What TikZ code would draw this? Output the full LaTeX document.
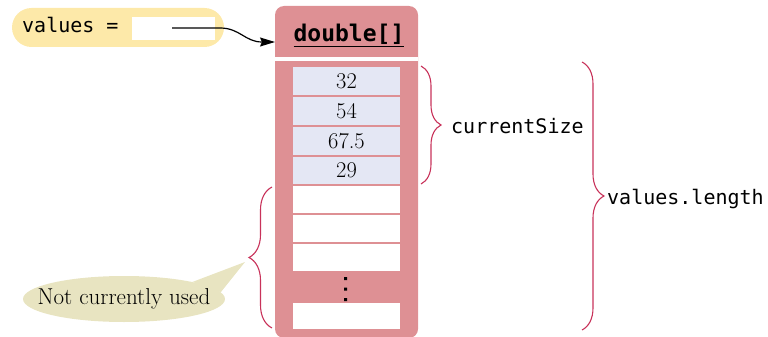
\documentclass[tikz,border=0pt]{standalone}
\usepackage{fontspec}
\setmonofont{DejaVu Sans Mono}
\usetikzlibrary{shapes.geometric,decorations.pathreplacing,arrows.meta}
\definecolor{boxred}{RGB}{222,144,148}
\definecolor{lav}{RGB}{228,231,244}
\definecolor{pill}{RGB}{253,233,169}
\definecolor{callout}{RGB}{232,228,193}
\definecolor{bracecol}{RGB}{200,50,90}
\tikzset{
  cellbox/.style={fill=lav, minimum width=107pt, minimum height=28pt, inner sep=0pt, font=\fontsize{22.5}{24}\selectfont},
  emptycell/.style={fill=white, minimum width=107pt, minimum height=27pt, inner sep=0pt},
  bracepath/.style={draw=bracecol, line width=1.1pt, decorate, decoration={brace, amplitude=#1}},
  monolabel/.style={font=\fontsize{20}{24}\ttfamily, inner sep=0pt},
}
\begin{document}
\begin{tikzpicture}[x=1pt,y=-1pt]
\useasboundingbox (0,0) rectangle (768,337);
% variable pill
\node[fill=pill, rounded corners=19.5pt, minimum width=212pt, minimum height=39pt, inner sep=0pt] (pill) at (118,27.5) {};
\node[monolabel, anchor=base west] (vlabel) at (22,33) {values =};
\node[fill=white, minimum width=83pt, minimum height=23pt, inner sep=0pt] (slot) at (173.5,28.5) {};
% array box
\node[fill=boxred, rounded corners=9pt, minimum width=143pt, minimum height=332pt, inner sep=0pt] (arr) at (346.5,172) {};
\node[fill=white, minimum width=143pt, minimum height=4pt, inner sep=0pt] (stripe) at (346.5,59) {};
\node[font=\fontsize{23}{26}\ttfamily\bfseries, inner sep=0pt, anchor=base] (head) at (349,42) {\underline{double[]}};
% cells
\node[cellbox] (c1) at (346.5,81) {32};
\node[cellbox] (c2) at (346.5,111) {54};
\node[cellbox] (c3) at (346.5,141) {67.5};
\node[cellbox, minimum height=27pt] (c4) at (346.5,170.5) {29};
\node[emptycell] (e1) at (346.5,199.5) {};
\node[emptycell] (e2) at (346.5,228.5) {};
\node[emptycell] (e3) at (346.5,257.5) {};
\node[emptycell, minimum height=26pt] (e4) at (346.5,316) {};
\fill (344,277) rectangle +(3,3) (344,287.5) rectangle +(3,3) (344,298) rectangle +(3,3);
% arrow
\coordinate (start) at (172,28);
\coordinate (tip) at (275,42);
\draw[line width=1.2pt, -{Stealth[length=15pt,width=9pt,inset=2pt]}] (start) -- (220,28) .. controls (240,28) and (245,42) .. (262,42) -- (tip);
% braces
\draw[bracepath=20pt] (421,66) -- (421,184);
\draw[bracepath=22pt] (582,62) -- (582,330);
\draw[bracepath=23pt] (272,328) -- (272,187);
\node[monolabel, anchor=base west] (cs) at (451,133) {currentSize};
\node[monolabel, anchor=base west] (vl) at (607,204) {values.length};
% callout
\node[ellipse, fill=callout, minimum width=202pt, minimum height=46pt, inner sep=0pt] (note) at (124,299) {};
\coordinate (ptr) at (245,262);
\fill[callout] (note.14) -- (ptr) -- (note.4) -- cycle;
\node[inner sep=0pt, font=\fontsize{23}{26}\selectfont] (notetext) at (note.center) {Not currently used};
\end{tikzpicture}
\end{document}
